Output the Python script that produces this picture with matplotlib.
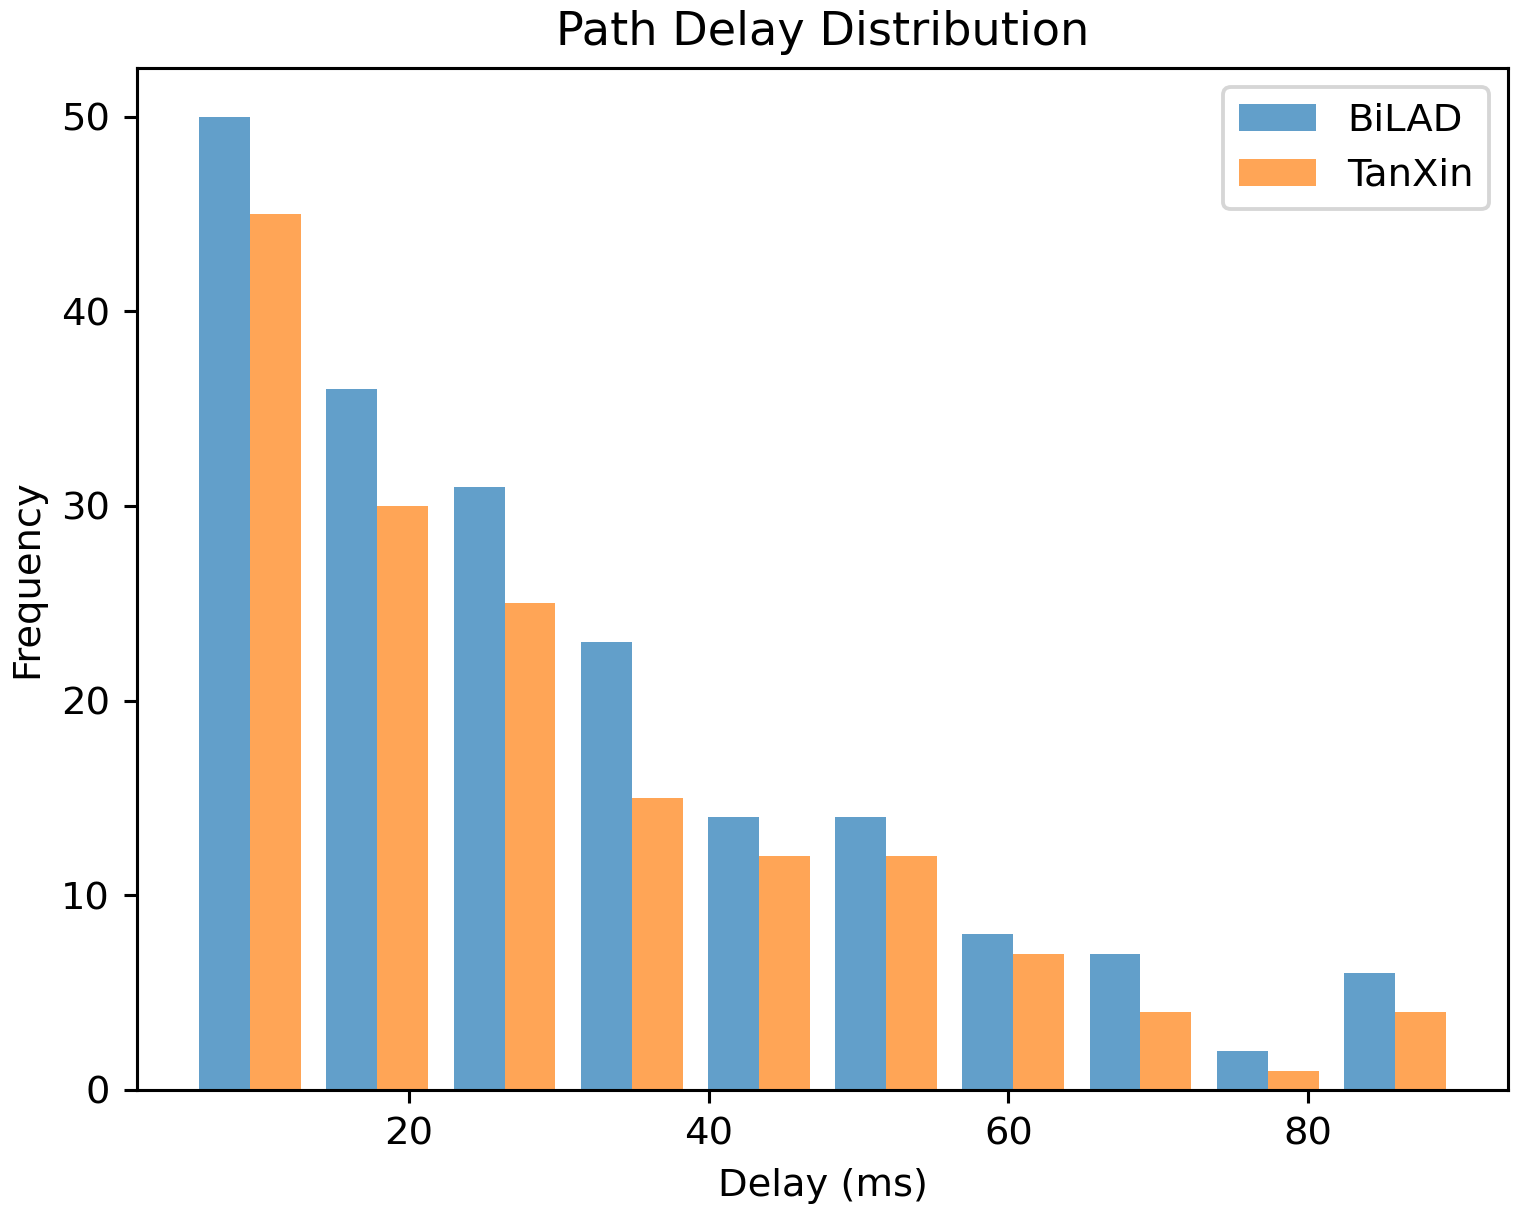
import numpy as np
import matplotlib.pyplot as plt

# Histogram bin edges and counts
bin_edges = np.linspace(5.15, 90.05, 11)
bilad_counts = [50, 36, 31, 23, 14, 14, 8, 7, 2, 6]
tanxin_counts = [45, 30, 25, 15, 12, 12, 7, 4, 1, 4]
labels = ["BiLAD", "TanXin"]

centers = (bin_edges[:-1] + bin_edges[1:]) / 2

dpi = 277.5
fig = plt.figure(figsize=(1536 / dpi, 1221 / dpi), dpi=dpi)
ax = fig.add_axes([137 / 1536, 131 / 1221, 1371 / 1536, 1022 / 1221])

# Weighted hist so matplotlib lays out the side-by-side bars itself
ax.hist([centers, centers], bins=bin_edges,
        weights=[bilad_counts, tanxin_counts],
        label=labels, alpha=0.7)

ax.set_title("Path Delay Distribution", fontsize=12)
ax.set_xlabel("Delay (ms)")
ax.set_ylabel("Frequency")
ax.legend()

fig.savefig("out.png", dpi=dpi)
